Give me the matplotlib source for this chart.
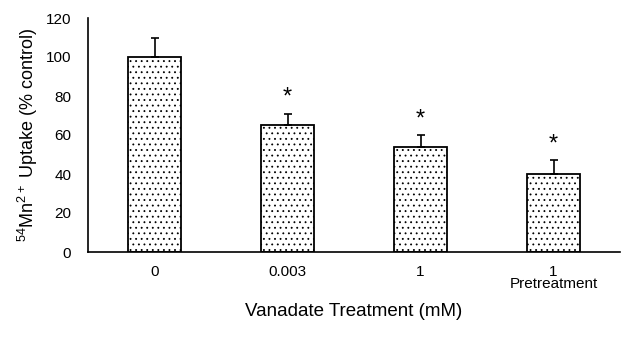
import numpy as np
import matplotlib.pyplot as plt

plt.rcParams['font.family'] = ['Liberation Sans', 'DejaVu Sans']
plt.rcParams['mathtext.fontset'] = 'custom'
plt.rcParams['mathtext.rm'] = 'Liberation Sans'
plt.rcParams['mathtext.default'] = 'regular'
plt.rcParams['hatch.color'] = '#9a9a9a'
plt.rcParams['hatch.linewidth'] = 0.6

# data
treatments = ['0', '0.003', '1', '1\nPretreatment']
uptake = [100, 65, 54, 40]
sem = [10, 6, 6, 7]
significant = [False, True, True, True]

fig = plt.figure(figsize=(6.29, 3.37), dpi=100)
ax = fig.add_axes([88 / 629, (337 - 252) / 337, (620 - 88) / 629, (252 - 18) / 337])

x = np.arange(len(treatments))
ax.bar(x, uptake, width=0.4, color='white', edgecolor='black', lw=1.3,
       hatch='...', zorder=2)
ax.errorbar(x, uptake, yerr=[np.zeros(len(sem)), sem], fmt='none',
            ecolor='black', elinewidth=1.2, capsize=3, capthick=1.2, zorder=3)

for xi, v, e, s in zip(x, uptake, sem, significant):
    if s:
        ax.text(xi, v + e + 2.5, '*', ha='center', va='bottom', fontsize=17)

ax.set_xlim(-0.5, 3.5)
ax.set_ylim(0, 120)
ax.set_yticks(np.arange(0, 121, 20))
ax.set_xticks(x)
ax.set_xticklabels(treatments, fontsize=11, linespacing=0.9)
ax.tick_params(axis='both', length=0, labelsize=11)
ax.tick_params(axis='x', pad=9)
ax.tick_params(axis='y', pad=12)

for side in ['top', 'right']:
    ax.spines[side].set_visible(False)
for side in ['left', 'bottom']:
    ax.spines[side].set_linewidth(1.2)

ax.set_ylabel(r'$^{54}$Mn$^{2+}$ Uptake (% control)', fontsize=13, labelpad=4)
ax.set_xlabel('Vanadate Treatment (mM)', fontsize=13.5, labelpad=8)

plt.savefig('out.png', dpi=100)
